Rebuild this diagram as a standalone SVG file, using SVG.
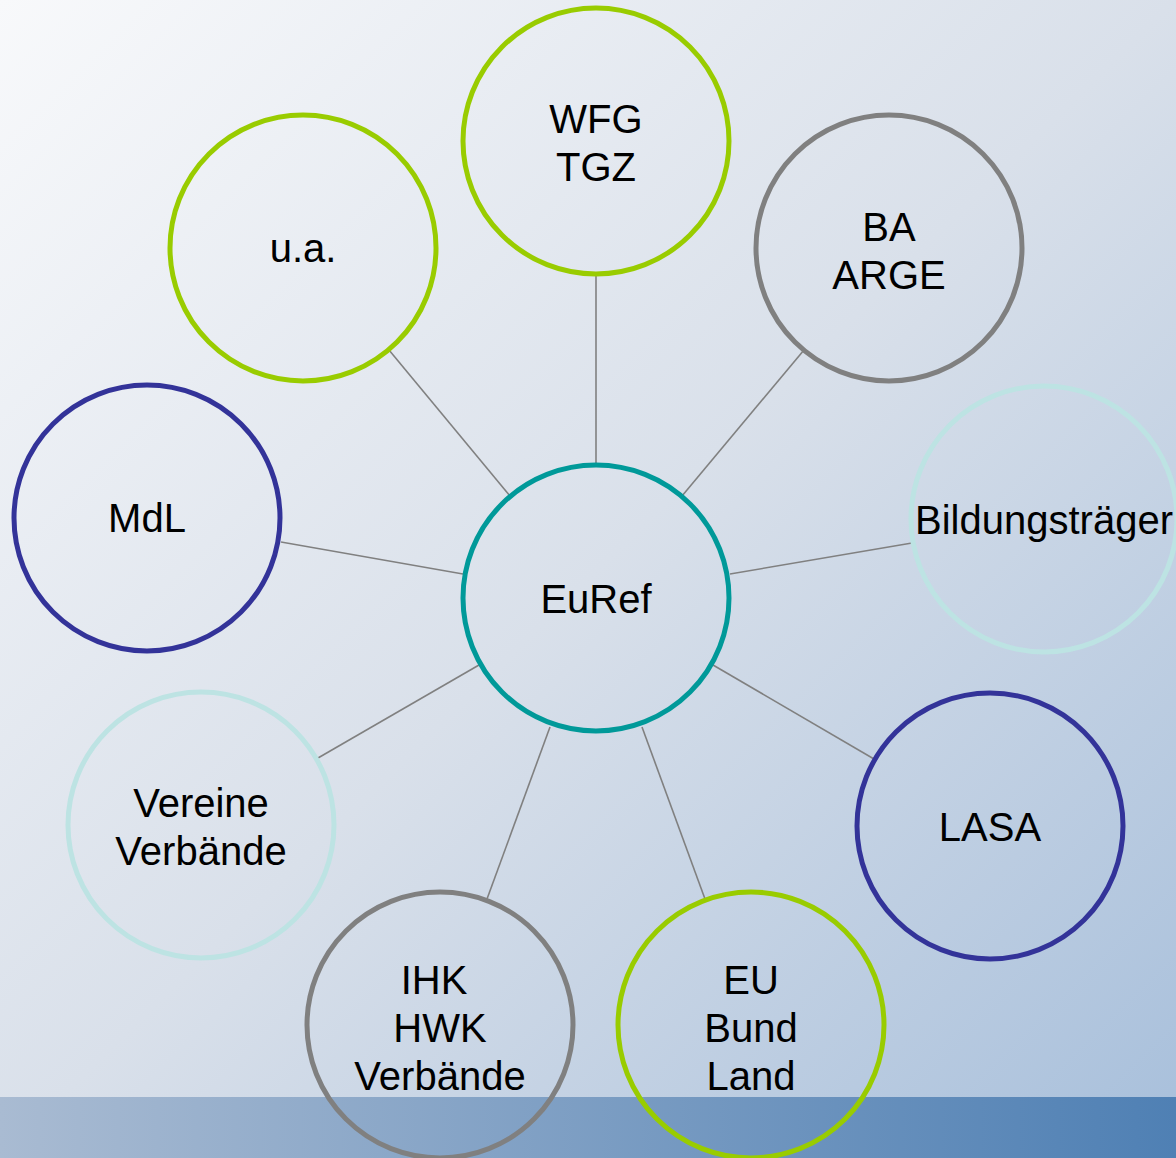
<svg xmlns="http://www.w3.org/2000/svg" width="1176" height="1158" viewBox="0 0 1176 1158">
<defs>
<linearGradient id="bg" x1="0" y1="0" x2="1" y2="1">
<stop offset="0" stop-color="#f8f9fb"/>
<stop offset="0.5" stop-color="#d9e0ea"/>
<stop offset="1" stop-color="#a7bfdb"/>
</linearGradient>
<linearGradient id="bar" x1="0" y1="0" x2="1" y2="0">
<stop offset="0" stop-color="#a9bbd2"/>
<stop offset="1" stop-color="#4f80b4"/>
</linearGradient>
<style>
.n{fill:none;stroke-width:5}
.g{stroke:#99cc00}.gr{stroke:#808080}.b{stroke:#333399}.c{stroke:#bde3e3}.t{stroke:#009999}
text{font-family:"Liberation Sans",Arial,sans-serif;font-size:40px;fill:#000;text-anchor:middle}
#edges line{stroke:#808080;stroke-width:1.6}
</style>
</defs>
<rect width="1176" height="1158" fill="url(#bg)"/>
<rect x="0" y="1097" width="1176" height="61" fill="url(#bar)"/>
<g id="edges">
<line x1="596" y1="465" x2="596" y2="276"/>
<line x1="682" y1="496" x2="804" y2="350"/>
<line x1="730" y1="574" x2="912" y2="543"/>
<line x1="713" y1="665" x2="874" y2="759"/>
<line x1="642" y1="727" x2="705" y2="899"/>
<line x1="550" y1="727" x2="487" y2="899"/>
<line x1="479" y1="665" x2="318" y2="758"/>
<line x1="463" y1="574" x2="281" y2="542"/>
<line x1="510" y1="496" x2="389" y2="350"/>
</g>
<g id="n-euref"><circle class="n t" cx="596" cy="598" r="133"/><text x="596" y="613">EuRef</text></g>
<g id="n-wfg"><circle class="n g" cx="596" cy="141" r="133"/><text x="596" y="133">WFG</text><text x="596" y="181">TGZ</text></g>
<g id="n-ba"><circle class="n gr" cx="889" cy="248" r="133"/><text x="889" y="241">BA</text><text x="889" y="289">ARGE</text></g>
<g id="n-bild"><circle class="n c" cx="1044" cy="519" r="133"/><text x="1044" y="534">Bildungsträger</text></g>
<g id="n-lasa"><circle class="n b" cx="990" cy="826" r="133"/><text x="990" y="841">LASA</text></g>
<g id="n-eu"><circle class="n g" cx="751" cy="1025" r="133"/><text x="751" y="994">EU</text><text x="751" y="1042">Bund</text><text x="751" y="1090">Land</text></g>
<g id="n-ihk"><circle class="n gr" cx="440" cy="1025" r="133"/><text x="434" y="994">IHK</text><text x="440" y="1042">HWK</text><text x="440" y="1090">Verbände</text></g>
<g id="n-vereine"><circle class="n c" cx="201" cy="825" r="133"/><text x="201" y="817">Vereine</text><text x="201" y="865">Verbände</text></g>
<g id="n-mdl"><circle class="n b" cx="147" cy="518" r="133"/><text x="147" y="532">MdL</text></g>
<g id="n-ua"><circle class="n g" cx="303" cy="248" r="133"/><text x="303" y="262">u.a.</text></g>
</svg>
